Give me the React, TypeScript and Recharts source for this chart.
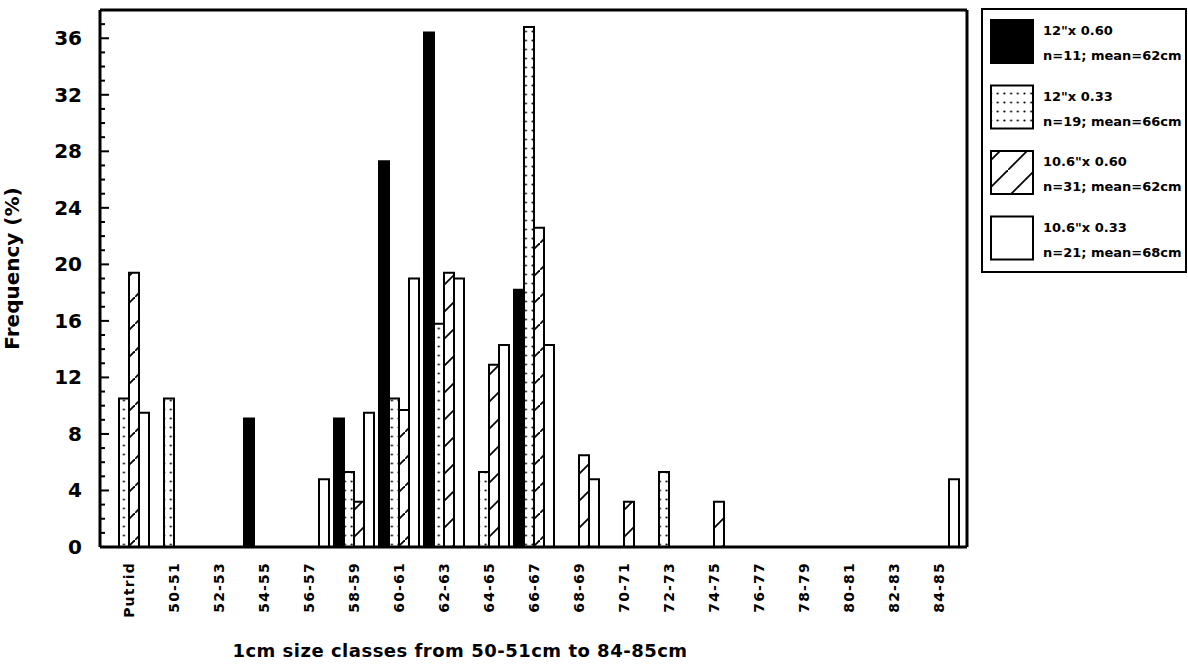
import { Bar, BarChart, XAxis, YAxis } from "recharts";

const CATEGORIES = [
  "Putrid", "50-51", "52-53", "54-55", "56-57", "58-59", "60-61", "62-63", "64-65", "66-67",
  "68-69", "70-71", "72-73", "74-75", "76-77", "78-79", "80-81", "82-83", "84-85",
];

// 12"x 0.60 (n=11)
const SOLID = [0, 0, 0, 9.1, 0, 9.1, 27.3, 36.4, 0, 18.2, 0, 0, 0, 0, 0, 0, 0, 0, 0];
// 12"x 0.33 (n=19)
const DOTTED = [10.5, 10.5, 0, 0, 0, 5.3, 10.5, 15.8, 5.3, 36.8, 0, 0, 5.3, 0, 0, 0, 0, 0, 0];
// 10.6"x 0.60 (n=31)
const HATCHED = [19.4, 0, 0, 0, 0, 3.2, 9.7, 19.4, 12.9, 22.6, 6.5, 3.2, 0, 3.2, 0, 0, 0, 0, 0];
// 10.6"x 0.33 (n=21)
const OPEN = [9.5, 0, 0, 0, 4.8, 9.5, 19.0, 19.0, 14.3, 14.3, 4.8, 0, 0, 0, 0, 0, 0, 0, 4.8];

const Y_LABELS = [0, 4, 8, 12, 16, 20, 24, 28, 32, 36];
const Y_MINOR = [
  0, 1, 2, 3, 4, 5, 6, 7, 8, 9, 10, 11, 12, 13, 14, 15, 16, 17, 18, 19,
  20, 21, 22, 23, 24, 25, 26, 27, 28, 29, 30, 31, 32, 33, 34, 35, 36, 37,
];

const SERIES = [
  { key: "solid", title: '12"x 0.60', stats: "n=11; mean=62cm", fill: "#000" },
  { key: "dotted", title: '12"x 0.33', stats: "n=19; mean=66cm", fill: "url(#dots)" },
  { key: "hatched", title: '10.6"x 0.60', stats: "n=31; mean=62cm", fill: "url(#hatch)" },
  { key: "open", title: '10.6"x 0.33', stats: "n=21; mean=68cm", fill: "#fff" },
];

const data = CATEGORIES.map((cat, i) => ({
  cat,
  solid: SOLID[i],
  dotted: DOTTED[i],
  hatched: HATCHED[i],
  open: OPEN[i],
}));

const FONT = '"DejaVu Sans", "Liberation Sans", sans-serif';
const W = 1188;
const H = 669;
const PLOT_LEFT = 100;
const PLOT_RIGHT = 967;
const PLOT_TOP = 10;
const PLOT_BOTTOM = 547;

function Patterns({ prefix }: { prefix: string }) {
  return (
    <defs>
      <pattern id={`${prefix}dots`} width={6.7} height={9} patternUnits="userSpaceOnUse">
        <rect width={6.7} height={9} fill="#fff" />
        <circle cx={3.3} cy={4.5} r={1.1} fill="#000" />
      </pattern>
      <pattern id={`${prefix}hatch`} width={27} height={27} patternUnits="userSpaceOnUse">
        <rect width={27} height={27} fill="#fff" />
        <path d="M-2,29 L29,-2" stroke="#000" strokeWidth={1.8} />
      </pattern>
    </defs>
  );
}

function YTick(props: any) {
  const { y, payload } = props;
  const v = payload.value;
  const major = v % 4 === 0;
  return (
    <g>
      <line x1={PLOT_LEFT} x2={PLOT_LEFT + (major ? 9 : 5)} y1={y} y2={y} stroke="#000" strokeWidth={2} />
      {major && Y_LABELS.includes(v) ? (
        <text
          x={82}
          y={y}
          textAnchor="end"
          dominantBaseline="central"
          fontFamily={FONT}
          fontWeight="bold"
          fontSize={20}
          fill="#000"
        >
          {v}
        </text>
      ) : null}
    </g>
  );
}

function XTick(props: any) {
  const { x, payload } = props;
  return (
    <text
      transform={`translate(${x},${PLOT_BOTTOM + 15}) rotate(-90)`}
      textAnchor="end"
      dominantBaseline="central"
      fontFamily={FONT}
      fontWeight="bold"
      fontSize={14}
      letterSpacing={1.2}
      fill="#000"
    >
      {payload.value}
    </text>
  );
}

function YTitle(props: any) {
  const vb = props.viewBox ?? {};
  const cy = vb.y != null && vb.height != null ? vb.y + vb.height / 2 - 10 : 268;
  return (
    <text
      transform={`translate(19,${cy}) rotate(-90)`}
      textAnchor="middle"
      fontFamily={FONT}
      fontWeight="bold"
      fontSize={20}
      fill="#000"
    >
      Frequency (%)
    </text>
  );
}

function XTitle() {
  return (
    <text
      x={460}
      y={657}
      textAnchor="middle"
      fontFamily={FONT}
      fontWeight="bold"
      fontSize={18}
      letterSpacing={0.5}
      fill="#000"
    >
      1cm size classes from 50-51cm to 84-85cm
    </text>
  );
}

function LegendBox() {
  return (
    <svg
      width={206}
      height={266}
      style={{ position: "absolute", left: 981, top: 8, overflow: "visible" }}
    >
      <Patterns prefix="lg-" />
      <rect x={1} y={1} width={204} height={263} fill="#fff" stroke="#000" strokeWidth={2} />
      {SERIES.map((s, i) => {
        const top = 12 + i * 65.5;
        const fill = s.fill.startsWith("url") ? s.fill.replace("#", "#lg-") : s.fill;
        return (
          <g key={s.key}>
            <rect x={10} y={top} width={42} height={43} fill={fill} stroke="#000" strokeWidth={2} />
            <text x={62} y={top + 15} fontFamily={FONT} fontWeight="bold" fontSize={13} fill="#000">
              {s.title}
            </text>
            <text x={62} y={top + 40} fontFamily={FONT} fontWeight="bold" fontSize={13} fill="#000">
              {s.stats}
            </text>
          </g>
        );
      })}
    </svg>
  );
}

export default function App() {
  return (
    <div style={{ position: "absolute", left: 0, top: 0, width: W, height: H, background: "#fff" }}>
      <BarChart
        width={W}
        height={H}
        data={data}
        margin={{ top: PLOT_TOP - 1, right: W - PLOT_RIGHT - 1, bottom: 0, left: 0 }}
        barCategoryGap={3}
        barGap={0}
      >
        <Patterns prefix="" />
        <XAxis
          dataKey="cat"
          interval={0}
          height={H - PLOT_BOTTOM}
          padding={{ left: 6, right: 6 }}
          tickLine={false}
          axisLine={{ stroke: "#000", strokeWidth: 3 }}
          tick={<XTick />}
          label={<XTitle />}
        />
        <XAxis
          xAxisId="top"
          orientation="top"
          dataKey="cat"
          height={1}
          tick={false}
          tickLine={false}
          axisLine={{ stroke: "#000", strokeWidth: 3 }}
        />
        <YAxis
          width={PLOT_LEFT}
          domain={[0, 38]}
          ticks={Y_MINOR}
          interval={0}
          tickLine={false}
          axisLine={{ stroke: "#000", strokeWidth: 3 }}
          tick={<YTick />}
          label={<YTitle />}
        />
        <YAxis
          yAxisId="right"
          orientation="right"
          width={1}
          domain={[0, 38]}
          tick={false}
          tickLine={false}
          axisLine={{ stroke: "#000", strokeWidth: 3 }}
        />
        {SERIES.map((s) => (
          <Bar
            key={s.key}
            dataKey={s.key}
            name={s.title}
            fill={s.fill}
            stroke="#000"
            strokeWidth={2}
            isAnimationActive={false}
          />
        ))}
      </BarChart>
      <LegendBox />
    </div>
  );
}
